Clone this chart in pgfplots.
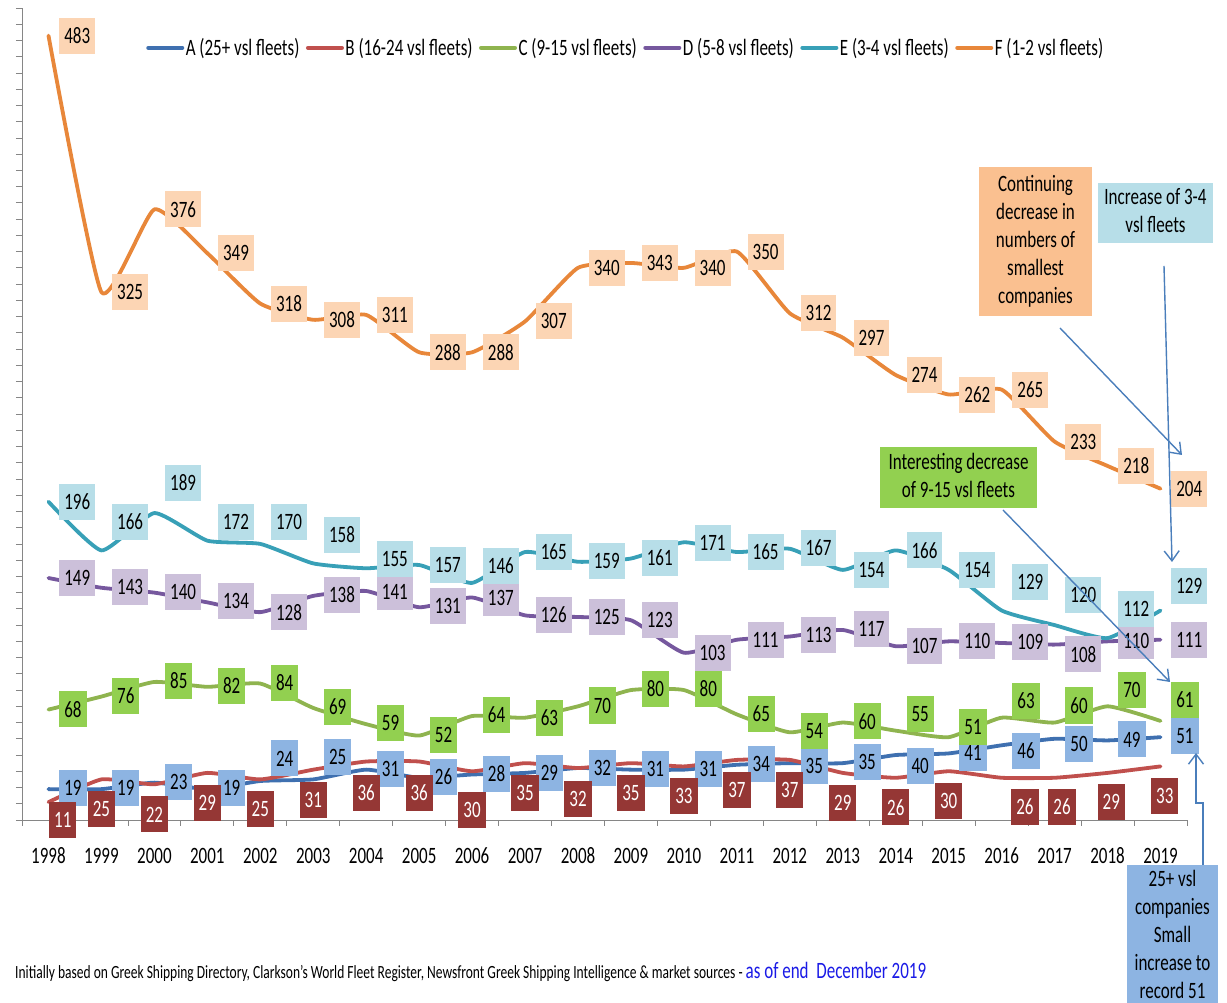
\documentclass[border=0pt]{standalone}
\usepackage{fontspec}
\setmainfont{Carlito}
\usepackage{graphicx}
\usepackage{pgfplots}
\usepackage{pgfplotstable}
\pgfplotsset{compat=1.18}
\usetikzlibrary{arrows.meta}

\definecolor{cA}{HTML}{3F70B0}
\definecolor{cB}{HTML}{C0504D}
\definecolor{cC}{HTML}{8FB44F}
\definecolor{cD}{HTML}{76589E}
\definecolor{cE}{HTML}{38A0B7}
\definecolor{cF}{HTML}{E8873A}
\definecolor{fA}{HTML}{8DB4E2}
\definecolor{fB}{HTML}{953735}
\definecolor{fC}{HTML}{92D050}
\definecolor{fD}{HTML}{CCC0DA}
\definecolor{fE}{HTML}{B7DEE8}
\definecolor{fF}{HTML}{FCD5B4}
\definecolor{fNote}{HTML}{FAC090}
\definecolor{arr}{HTML}{4A7EBB}
\definecolor{axgray}{HTML}{868686}
\definecolor{noteblue}{HTML}{1A1AE6}

\newcommand{\st}[1]{\scalebox{1}[1.38]{#1}}
\newcommand{\lf}{\fontsize{17}{20.3}\selectfont}

% label positions (x = year index, y = label height) and label text
\pgfplotstableread{
x y v
0 19.7 19
1 19.7 19
2 23.4 23
3 19.7 19
4 37.9 24
5 38.8 25
6 31.4 31
7 26.5 26
8 28.3 28
9 29.2 29
10 32.3 32
11 31.4 31
12 31.4 31
13 34.5 34
14 33 35
15 35.7 35
16 33 40
17 41.3 41
18 42.5 46
19 46.8 50
20 49.6 49
21 51.7 51
}\labA
\pgfplotstableread{
x y v
0.27 0 11
1 6.5 25
2 3.4 22
3 10.5 29
4 6.5 25
5 12.6 31
6 16.6 36
7 16.6 36
8 6.2 30
9 16.6 35
10 12.9 32
11 16.6 35
12 14.5 33
13 18.5 37
14 18.5 37
15 10.5 29
16 7.7 26
17 11.7 30
18.44 8 26
19.14 8 26
20.07 11 29
21.08 14.8 33
}\labB
\pgfplotstableread{
x y v
0 68.3 68
1 76.4 76
2 85.6 85
3 82.5 82
4 84.4 84
5 69.6 69
6 59.7 59
7 52.3 52
8 64.7 64
9 63.1 63
10 70.5 70
11 80.7 80
12 80.7 80
13 65.3 65
14 54.8 54
15 60.7 60
16 65 55
17 57.3 51
18 73.3 63
19 70.5 60
20 80 70
21 74 61
}\labC
\pgfplotstableread{
x y v
0 149 149
1 143.5 143
2 140.4 140
3 134.9 134
4 128 128
5 138.5 138
6 140.6 141
7 131.8 131
8 136.7 137
9 126.2 126
10 125.3 125
11 123 123
12 103 103
13 111 111
14 114 113
15 117.6 117
16 107 107
17 110 110
18 109.6 109
19 102 108
20 110 110
21 111 111
}\labD
\pgfplotstableread{
x y v
0 195.8 196
1 183.5 166
2 207.5 189
3 183.5 172
4 183.5 170
5 175.5 158
6 160.7 155
7 157 157
8 156.4 146
9 165 165
10 159.5 159
11 161.3 161
12 170.6 171
13 165.3 165
14 167.5 167
15 154 154
16 166 166
17 154 154
18 146.5 129
19 138.5 120
20 130 112
21 144 129
}\labE
\pgfplotstableread{
x y v
0 483 483
1 325 325
2 376 376
3 349 349
4 318 318
5 308 308
6 311 311
7 288 288
8 288 288
9 307 307
10 340 340
11 343 343
12 340 340
13 350 350
14 312 312
15 297 297
16 274 274
17 262 262
18 265 265
19 233 233
20 218 218
21 204 204
}\labF

\tikzset{
  lblbox/.style={anchor=west, minimum height=36pt, inner xsep=5pt, inner ysep=0pt, font=\lf},
}
\pgfplotsset{
  lbl/.style={draw=none, forget plot, point meta=explicit symbolic,
    nodes near coords={\st{\pgfplotspointmeta}}},
  ser/.style={line width=3.8pt, smooth, tension=0.3, line join=round, line cap=round},
}

\begin{document}
\begin{tikzpicture}
\useasboundingbox (0,0) rectangle (1227pt,1003pt);
\begin{axis}[
  at={(22pt,183pt)}, anchor=south west,
  scale only axis, width=1165pt, height=812pt,
  xmin=-0.5, xmax=21.5, ymin=0, ymax=500,
  clip=false,
  axis lines*=left,
  axis line style={axgray, line width=0.8pt},
  xtick={0,...,21},
  xticklabels={\st{1998},\st{1999},\st{2000},\st{2001},\st{2002},\st{2003},\st{2004},\st{2005},\st{2006},\st{2007},\st{2008},\st{2009},\st{2010},\st{2011},\st{2012},\st{2013},\st{2014},\st{2015},\st{2016},\st{2017},\st{2018},\st{2019}},
  xticklabel style={font=\lf, anchor=center, yshift=-30pt},
  minor xtick={-0.5,0.5,...,21.5},
  major x tick style={draw=none},
  minor x tick style={axgray, line width=0.8pt},
  ytick={0,10,...,500}, yticklabels={},
  y tick style={axgray, line width=0.8pt},
  tick align=outside,
  major tick length=6pt, minor tick length=6pt,
  legend columns=6,
  legend style={at={(0.518,0.951)}, anchor=center, draw=none, fill=none, font=\lf,
    /tikz/every even column/.append style={column sep=5pt}, nodes={inner sep=1.5pt}},
  legend image code/.code={\draw[#1, line width=4pt] (0pt,0pt) -- (34pt,0pt);},
]
\addplot[cA, ser] coordinates {(0,19) (1,19) (2,23) (3,19) (4,24) (5,25) (6,31) (7,26) (8,28) (9,29) (10,32) (11,31) (12,31) (13,34) (14,35) (15,35) (16,40) (17,41) (18,46) (19,50) (20,49) (21,51)};
\addlegendentry{\st{A (25+ vsl fleets)}}
\addplot[cB, ser] coordinates {(0,11) (1,25) (2,22) (3,29) (4,25) (5,31) (6,36) (7,36) (8,30) (9,35) (10,32) (11,35) (12,33) (13,37) (14,37) (15,29) (16,26) (17,30) (18,26) (19,26) (20,29) (21,33)};
\addlegendentry{\st{B (16-24 vsl fleets)}}
\addplot[cC, ser] coordinates {(0,68) (1,76) (2,85) (3,82) (4,84) (5,69) (6,59) (7,52) (8,64) (9,63) (10,70) (11,80) (12,80) (13,65) (14,54) (15,60) (16,55) (17,51) (18,63) (19,60) (20,70) (21,61)};
\addlegendentry{\st{C (9-15 vsl fleets)}}
\addplot[cD, ser] coordinates {(0,149) (1,143) (2,140) (3,134) (4,128) (5,138) (6,141) (7,131) (8,137) (9,126) (10,125) (11,123) (12,103) (13,111) (14,113) (15,117) (16,107) (17,110) (18,109) (19,108) (20,110) (21,111)};
\addlegendentry{\st{D (5-8 vsl fleets)}}
\addplot[cE, ser] coordinates {(0,196) (1,166) (2,189) (3,172) (4,170) (5,158) (6,155) (7,157) (8,146) (9,165) (10,159) (11,161) (12,171) (13,165) (14,167) (15,154) (16,166) (17,154) (18,129) (19,120) (20,112) (21,129)};
\addlegendentry{\st{E (3-4 vsl fleets)}}
\addplot[cF, ser] coordinates {(0,483) (1,325) (2,376) (3,349) (4,318) (5,308) (6,311) (7,288) (8,288) (9,307) (10,340) (11,343) (12,340) (13,350) (14,312) (15,297) (16,274) (17,262) (18,265) (19,233) (20,218) (21,204)};
\addlegendentry{\st{F (1-2 vsl fleets)}}

\addplot[lbl, every node near coord/.append style={lblbox, fill=fA, text=black}] table[x expr=\thisrow{x}+0.2, y=y, meta=v] {\labA};
\addplot[lbl, every node near coord/.append style={lblbox, anchor=center, fill=fB, text=white}] table[x=x, y=y, meta=v] {\labB};
\addplot[lbl, every node near coord/.append style={lblbox, fill=fC, text=black}] table[x expr=\thisrow{x}+0.2, y=y, meta=v] {\labC};
\addplot[lbl, every node near coord/.append style={lblbox, fill=fD, text=black}] table[x expr=\thisrow{x}+0.2, y=y, meta=v] {\labD};
\addplot[lbl, every node near coord/.append style={lblbox, fill=fE, text=black}] table[x expr=\thisrow{x}+0.2, y=y, meta=v] {\labE};
\addplot[lbl, every node near coord/.append style={lblbox, fill=fF, text=black}] table[x expr=\thisrow{x}+0.2, y=y, meta=v] {\labF};
\end{axis}

% annotation boxes
\node[fill=fNote, minimum width=113pt, minimum height=149pt, inner sep=0pt, font=\lf]
  at (1035.5pt,761.5pt) {\st{\begin{tabular}{@{}c@{}}Continuing\\decrease in\\numbers of\\smallest\\companies\end{tabular}}};
\node[fill=fE, minimum width=115pt, minimum height=60pt, inner sep=0pt, font=\lf]
  at (1155.5pt,790pt) {\st{\begin{tabular}{@{}c@{}}Increase of 3-4\\vsl fleets\end{tabular}}};
\node[fill=fC, minimum width=157pt, minimum height=61pt, inner sep=0pt, font=\lf]
  at (958.5pt,525.5pt) {\st{\begin{tabular}{@{}c@{}}Interesting decrease\\of 9-15 vsl fleets\end{tabular}}};
\fill[fA] (1127pt,0pt) rectangle (1218pt,138pt);
\node[inner sep=0pt, font=\lf] at (1172.5pt,66pt)
  {\st{\begin{tabular}{@{}c@{}}25+ vsl\\companies\\Small\\increase to\\record 51\end{tabular}}};

% arrows
\begin{scope}[arr, line width=1.4pt, -{Straight Barb[length=10pt,width=15pt]}]
\draw (1060pt,675pt) -- (1182pt,548pt);
\draw (1164pt,737pt) -- (1172pt,441pt);
\draw (1003pt,493pt) -- (1170pt,321pt);
\draw (1203pt,138pt) -- (1203pt,200pt) -- (1196pt,200pt) -- (1196pt,250pt);
\end{scope}

% footnote
\node[anchor=west, inner sep=0pt] at (15pt,31pt)
  {\st{\fontsize{13.5}{16}\selectfont Initially based on Greek Shipping Directory, Clarkson’s World Fleet Register, Newsfront Greek Shipping Intelligence \& market sources - }\st{\lf\color{noteblue}as of end\ \ December 2019}};
\end{tikzpicture}
\end{document}
